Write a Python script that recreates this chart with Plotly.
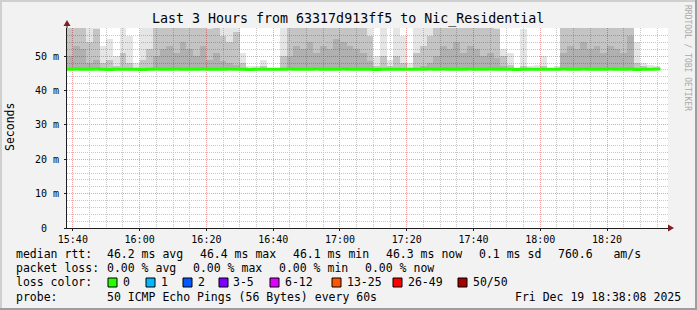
import plotly.graph_objects as go
import pandas as pd

# ---------------- data ----------------
start_time = "2025-12-19 15:38:00"
x_range = ["2025-12-19 15:38:15", "2025-12-19 18:38:15"]
bin_minutes = 2

median_ms = [46.2, 46.3, 46.2, 46.2, 46.3, 46.2, 46.1, 46.2, 46.2, 46.2,
             46.2, 46.1, 46.2, 46.3, 46.2, 46.2, 46.3, 46.2, 46.2, 46.2,
             46.3, 46.2, 46.2, 46.2, 46.3, 46.2, 46.2, 46.1, 46.2, 46.2,
             46.2, 46.2, 46.2, 46.3, 46.2, 46.2, 46.2, 46.3, 46.2, 46.2,
             46.2, 46.3, 46.2, 46.2, 46.2, 46.2, 46.1, 46.2, 46.2, 46.2,
             46.2, 46.2, 46.2, 46.2, 46.3, 46.2, 46.3, 46.2, 46.2, 46.2,
             46.3, 46.2, 46.2, 46.3, 46.2, 46.2, 46.2, 46.1, 46.2, 46.2,
             46.2, 46.2, 46.2, 46.2, 46.3, 46.2, 46.2, 46.3, 46.2, 46.2,
             46.2, 46.3, 46.2, 46.2, 46.3, 46.1, 46.2, 46.2, 46.3]

smoke_light_ms = [60, 60, 60, 60, 60, 53, 55, 50, 60, 56,
                  48, 60, 60, 60, 60, 60, 60, 60, 60, 60,
                  60, 60, 60, 60, 60, 60, 51, 47, 47, 49,
                  46.5, 46.5, 60, 60, 60, 60, 60, 60, 60, 60,
                  60, 60, 60, 60, 60, 60, 50, 60, 49, 60,
                  56, 48, 60, 60, 60, 60, 60, 60, 60, 60,
                  60, 60, 60, 60, 60, 52, 51, 46.5, 58, 47,
                  47.5, 50, 46.5, 47, 60, 60, 60, 60, 60, 60,
                  60, 60, 60, 60, 60, 54, 48, 47.5, 47]

smoke_mid_ms = [60, 60, 60, 54, 58, 48, 49, 47, 51, 48,
                46.5, 49, 52, 60, 60, 60, 60, 60, 60, 60,
                60, 58, 60, 56, 54, 57, 48, 46, 46, 47,
                46, 46, 50, 60, 60, 60, 60, 60, 60, 60,
                60, 60, 60, 60, 60, 56, 47, 50, 47, 50,
                48, 46.5, 51, 53, 56, 60, 60, 60, 60, 60,
                60, 60, 60, 60, 58, 50, 47.5, 46, 47, 46,
                46, 47, 46, 46, 60, 60, 60, 60, 60, 60,
                60, 60, 60, 60, 60, 48, 47, 46, 46]

smoke_dark_ms = [50, 53, 52, 48, 49, 46, 46, 46, 46.5, 46,
                 46, 46, 46.5, 50, 52, 53, 51, 54, 52, 50,
                 53, 49, 51, 48.5, 48, 47.5, 46.5, 46, 46, 46,
                 46, 46, 46.5, 50, 53, 52, 54, 51, 53, 52,
                 55, 54, 53, 52, 51, 48.5, 46, 46.5, 46, 46.5,
                 46, 46, 46.5, 47, 48, 50, 53, 52, 54, 51,
                 53, 52, 50, 51, 49.5, 47, 46, 46, 46, 46,
                 46, 46, 46, 46, 51, 53, 52, 54, 52, 53,
                 51, 53, 52, 51, 56, 46, 46, 46, 46]

smoke_base_ms = 45.9

y_tick_values = [0, 10, 20, 30, 40, 50]
y_tick_labels = ["0\u00a0\u00a0", "10 m", "20 m", "30 m", "40 m", "50 m"]

title_text = "Last 3 Hours from 63317d913ff5 to Nic_Residential"
rtt_stats = ["46.2 ms avg", "46.4 ms max", "46.1 ms min", "46.3 ms now", "0.1 ms sd", "760.6\u00a0\u00a0\u00a0am/s"]
loss_stats = ["0.00 % avg", "0.00 % max", "0.00 % min", "0.00 % now"]
loss_labels = ["0", "1", "2", "3-5", "6-12", "13-25", "26-49", "50/50"]
loss_colors = ["#26ff00", "#00b8ff", "#0059ff", "#7e00ff", "#dd00ff", "#ff5500", "#ff0000", "#a10000"]
probe_text = "50 ICMP Echo Pings (56 Bytes) every 60s"
date_text = "Fri Dec 19 18:38:08 2025"

# ---------------- layout geometry ----------------
W, H = 697, 310
ML, MR, MT, MB = 67, 29, 28, 82
PW = W - ML - MR
PH = H - MT - MB
FONT = "DejaVu Sans Mono"


def px_x(px):
    return (px - ML) / PW


def px_y(py):
    return (MT + PH - py) / PH


times = pd.date_range(start_time, periods=len(median_ms), freq=f"{bin_minutes}min")
centers = times + pd.Timedelta(minutes=bin_minutes / 2)
width_ms = bin_minutes * 60 * 1000

dark_base = [smoke_base_ms] * len(times)
dark_h = [max(d - smoke_base_ms, 0) for d in smoke_dark_ms]
mid_base = [max(d, smoke_base_ms) for d in smoke_dark_ms]
mid_h = [max(m - b, 0) for m, b in zip(smoke_mid_ms, mid_base)]
light_base = [max(m, b) for m, b in zip(smoke_mid_ms, mid_base)]
light_h = [max(l - b, 0) for l, b in zip(smoke_light_ms, light_base)]

fig = go.Figure()
for base, hgt, col in [(dark_base, dark_h, "rgba(0,0,0,0.31)"),
                       (mid_base, mid_h, "rgba(0,0,0,0.23)"),
                       (light_base, light_h, "rgba(0,0,0,0.10)")]:
    fig.add_trace(go.Bar(x=centers, y=hgt, base=base, width=width_ms,
                         marker=dict(color=col, line=dict(width=0)),
                         hoverinfo="skip", showlegend=False))

line_x = list(times) + [times[-1] + pd.Timedelta(minutes=bin_minutes)]
line_y = median_ms + [median_ms[-1]]
fig.add_trace(go.Scatter(x=line_x, y=line_y, mode="lines", line_shape="hv",
                         line=dict(color="#26ff00", width=3),
                         hoverinfo="skip", showlegend=False))

fig.update_layout(
    width=W, height=H,
    margin=dict(l=ML, r=MR, t=MT, b=MB, pad=0),
    paper_bgcolor="#F2F2F2", plot_bgcolor="#FFFFFF",
    barmode="overlay", bargap=0,
    showlegend=False,
    font=dict(family=FONT, size=10, color="#000000"),
)

fig.update_xaxes(
    type="date", range=x_range,
    tick0="2025-12-19 15:40:00", dtick=20 * 60 * 1000, tickformat="%H:%M",
    showgrid=True, gridcolor="#F0A0A0", griddash="1px,1px", gridwidth=1,
    minor=dict(dtick=5 * 60 * 1000, tick0="2025-12-19 15:40:00", showgrid=True,
               gridcolor="#C8C8C8", griddash="1px,1px", gridwidth=1),
    showline=True, linecolor="#1F1F1F", linewidth=1,
    ticks="outside", ticklen=2, tickcolor="#1F1F1F",
    tickfont=dict(family=FONT, size=10, color="#000000"),
    zeroline=False, fixedrange=True,
)
fig.update_yaxes(
    range=[0, 58.2],
    tickvals=y_tick_values, ticktext=y_tick_labels,
    showgrid=True, gridcolor="#F0A0A0", griddash="1px,1px", gridwidth=1,
    minor=dict(dtick=2, showgrid=True, gridcolor="#C8C8C8", griddash="1px,1px", gridwidth=1),
    showline=True, linecolor="#1F1F1F", linewidth=1,
    ticks="outside", ticklen=2, tickcolor="#1F1F1F",
    ticklabelstandoff=3,
    tickfont=dict(family=FONT, size=10, color="#000000"),
    zeroline=False, fixedrange=True,
)

shapes = []
# frame shading
shapes.append(dict(type="rect", xref="paper", yref="paper", x0=px_x(0), x1=px_x(W), y0=px_y(0), y1=px_y(2),
                   fillcolor="#CFCFCF", line=dict(width=0), layer="above"))
shapes.append(dict(type="rect", xref="paper", yref="paper", x0=px_x(0), x1=px_x(2), y0=px_y(0), y1=px_y(H),
                   fillcolor="#CFCFCF", line=dict(width=0), layer="above"))
shapes.append(dict(type="rect", xref="paper", yref="paper", x0=px_x(0), x1=px_x(W), y0=px_y(H - 2), y1=px_y(H),
                   fillcolor="#9E9E9E", line=dict(width=0), layer="above"))
shapes.append(dict(type="rect", xref="paper", yref="paper", x0=px_x(W - 2), x1=px_x(W), y0=px_y(0), y1=px_y(H),
                   fillcolor="#9E9E9E", line=dict(width=0), layer="above"))
# axis extensions and arrows
shapes.append(dict(type="line", xref="paper", yref="paper", x0=0, x1=0, y0=1, y1=px_y(24),
                   line=dict(color="#1F1F1F", width=1), layer="above"))
shapes.append(dict(type="line", xref="paper", yref="paper", x0=1, x1=px_x(670), y0=0, y1=0,
                   line=dict(color="#1F1F1F", width=1), layer="above"))
shapes.append(dict(type="path", xref="paper", yref="paper",
                   path=f"M {px_x(63.5)} {px_y(26)} L {px_x(70.5)} {px_y(26)} L {px_x(67)} {px_y(20)} Z",
                   fillcolor="#801F1F", line=dict(width=0), layer="above"))
shapes.append(dict(type="path", xref="paper", yref="paper",
                   path=f"M {px_x(668)} {px_y(224.5)} L {px_x(668)} {px_y(231.5)} L {px_x(674)} {px_y(228)} Z",
                   fillcolor="#801F1F", line=dict(width=0), layer="above"))

annotations = []


def add_text(text, px, py, size=11.5, anchor="left", color="#000000", angle=0, yanchor="middle"):
    annotations.append(dict(text=text, xref="paper", yref="paper", x=px_x(px), y=px_y(py),
                            xanchor=anchor, yanchor=yanchor, showarrow=False, textangle=angle,
                            font=dict(family=FONT, size=size, color=color),
                            borderpad=0, borderwidth=0))


add_text(title_text, 347.5, 19, size=13.3, anchor="center")
add_text("Seconds", 10, 127, size=11.5, anchor="center", angle=-90)
add_text("RRDTOOL / TOBI OETIKER", 688, 5, size=8, anchor="center", color="#A8A8A8", angle=90, yanchor="top")

CH = 6.95
GAP = 16.5
row_y = [254, 268.3, 282.3, 296.7]
col0 = 16
col1 = 107

add_text("median\u00a0rtt:", col0, row_y[0])
xx = col1
for s in rtt_stats:
    add_text(s.replace(" ", "\u00a0"), xx, row_y[0])
    xx += len(s) * CH + GAP

add_text("packet\u00a0loss:", col0, row_y[1])
xx = col1
for s in loss_stats:
    add_text(s.replace(" ", "\u00a0"), xx, row_y[1])
    xx += len(s) * CH + GAP

add_text("loss\u00a0color:", col0, row_y[2])
box_x = [108, 146, 183, 219, 270, 332, 393, 458]
for bx, lab, col in zip(box_x, loss_labels, loss_colors):
    shapes.append(dict(type="rect", xref="paper", yref="paper",
                       x0=px_x(bx), x1=px_x(bx + 9), y0=px_y(278), y1=px_y(287),
                       fillcolor=col, line=dict(color="#000000", width=1), layer="above"))
    add_text(lab, bx + 14.5, row_y[2])

add_text("probe:", col0, row_y[3])
add_text(probe_text.replace(" ", "\u00a0"), col1, row_y[3])
add_text(date_text.replace(" ", "\u00a0"), 680.5, row_y[3], anchor="right")

fig.update_layout(shapes=shapes, annotations=annotations)
fig.write_html("out.html")
